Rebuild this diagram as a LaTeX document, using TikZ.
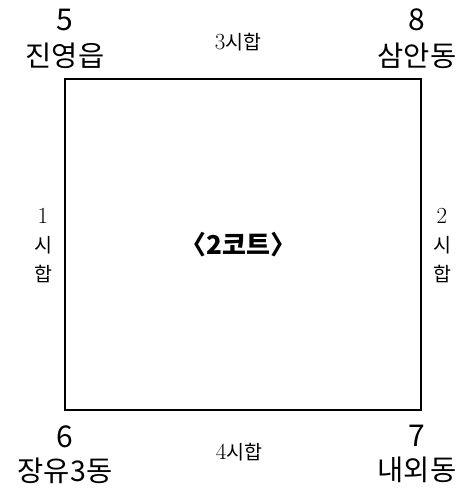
\documentclass[tikz,border=0pt]{standalone}
\usepackage{fontspec}
\newfontfamily\kr{Noto Sans CJK KR}
\usetikzlibrary{positioning}

\begin{document}
\begin{tikzpicture}[x=1pt,y=-1pt,num/.style={font=\kr\fontsize{30}{30}\selectfont,inner sep=0pt},place/.style={font=\kr\fontsize{28.5}{28.5}\selectfont,inner sep=0pt},game/.style={font=\kr\fontsize{19.5}{19.5}\selectfont,inner sep=0pt},court/.style={draw=black,line width=2pt,minimum width=356pt,minimum height=331pt,inner sep=0pt,font=\kr\bfseries\fontsize{26}{26}\selectfont}]
\def\xl{65};
\def\xr{417};
\def\vs{29};
\newcommand\dg[1]{{\rmfamily\fontsize{23}{23}\selectfont #1}}

\useasboundingbox (0,0) rectangle (465,490);

\node[court] (C) at (243,244.5) {\hspace{-0.35em}〈2코트〉\hspace{-0.35em}};

% corners
\node[num] (n5) at (\xl,20) {5};
\node[place] (p5) at (\xl,56) {진영읍};
\node[num] (n8) at (\xr,20) {8};
\node[place] (p8) at (\xr,56) {삼안동};
\node[num] (n6) at (\xl,437) {6};
\node[place] (p6) at (\xl,471) {장유3동};
\node[num] (n7) at (\xr,436) {7};
\node[place] (p7) at (\xr,470) {내외동};

% games
\node[game] (g3) at (238,42) {\dg{3}시합};
\node[game] (g4) at (239,452) {\dg{4}시합};
\node[game] (g1a) at (43,216) {\dg{1}};
\node[game] (g1b) at (43,216+\vs) {시};
\node[game] (g1c) at (43,216+2*\vs) {합};
\node[game] (g2a) at (442,216) {\dg{2}};
\node[game] (g2b) at (442,216+\vs) {시};
\node[game] (g2c) at (442,216+2*\vs) {합};
\end{tikzpicture}
\end{document}
